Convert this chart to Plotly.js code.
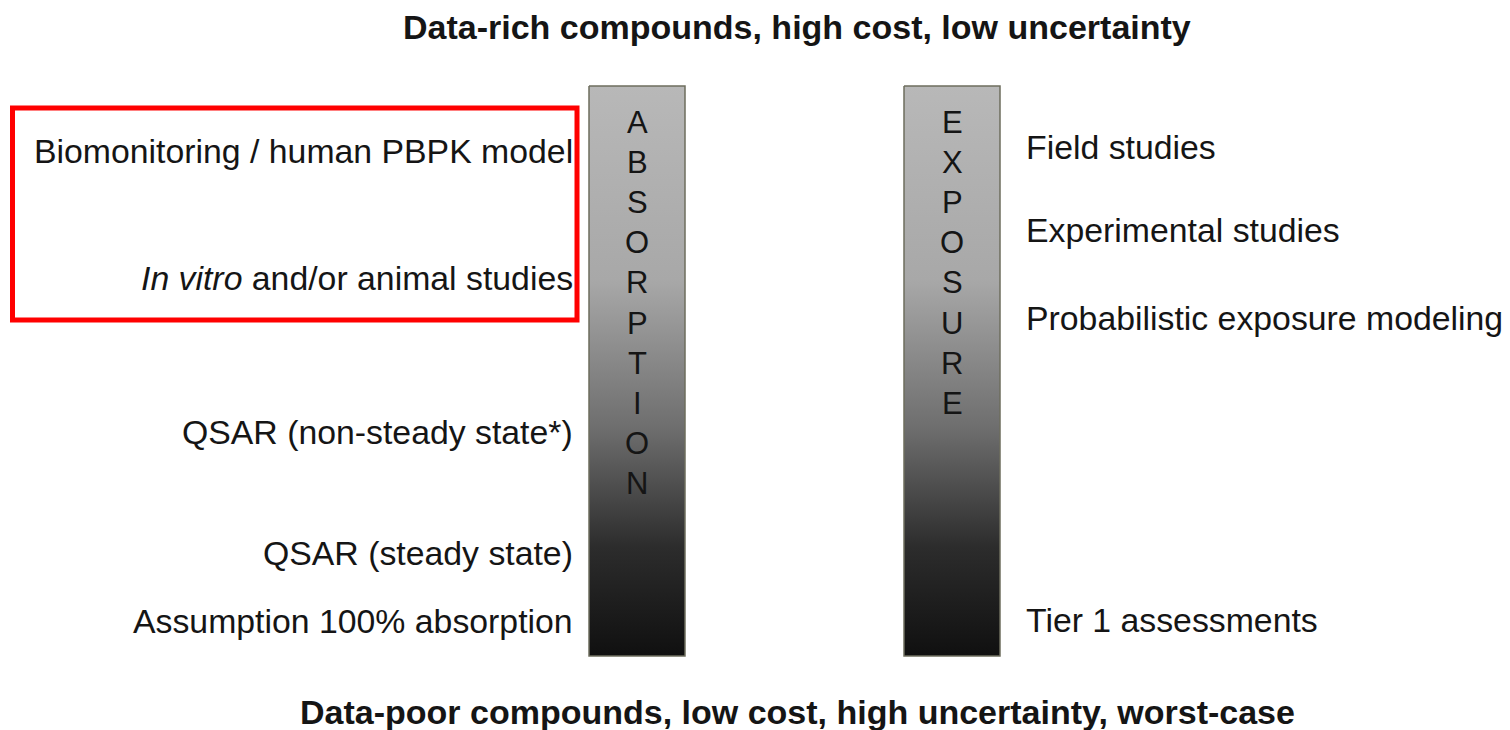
<!DOCTYPE html>
<html>
<head>
<meta charset="utf-8">
<script src="https://cdn.plot.ly/plotly-3.0.1.min.js"></script>
<style>html,body{margin:0;padding:0;background:#fff;}#chart{width:1510px;height:730px;}</style>
</head>
<body>
<div id="chart"></div>
<script>
// ---- content ----
const topTitle = "Data-rich compounds, high cost, low uncertainty";
const bottomTitle = "Data-poor compounds, low cost, high uncertainty, worst-case";

const absorptionLetters = ["A","B","S","O","R","P","T","I","O","N"];
const exposureLetters = ["E","X","P","O","S","U","R","E"];

const absorptionLabels = [
  "Biomonitoring / human PBPK model",
  "<i>In vitro</i> and/or animal studies",
  "QSAR (non-steady state*)",
  "QSAR (steady state)",
  "Assumption 100% absorption"
];
const absorptionLabelY = [151, 278, 432, 553, 621];

const exposureLabels = [
  "Field studies",
  "Experimental studies",
  "Probabilistic exposure modeling",
  "Tier 1 assessments"
];
const exposureLabelY = [147, 230, 318, 620];

// gradient stops (fraction from top, gray level)
const gradStops = [0, 0.34, 0.60, 0.81, 1];
const gradGray = [184, 168, 110, 44, 16];

// ---- layout geometry (pixel space) ----
const barTop = 86, barBottom = 656;
const absBar = [589, 685];
const expBar = [904, 1000];
const letterTop = 122, letterStep = 40.2;

const colorscale = gradStops.map((s, i) => [s, `rgb(${gradGray[i]},${gradGray[i]},${gradGray[i]})`]);

function barTrace(xr) {
  return {
    type: 'scatter', mode: 'lines',
    x: [xr[0], xr[1], xr[1], xr[0], xr[0]],
    y: [barTop, barTop, barBottom, barBottom, barTop],
    fill: 'toself',
    fillgradient: {type: 'vertical', colorscale: colorscale, start: barTop, stop: barBottom},
    line: {color: '#6e6e5e', width: 1.5},
    hoverinfo: 'skip'
  };
}

const textColor = '#151515';
const baseFont = "'Liberation Sans', Arial, Helvetica, sans-serif";
const labelSize = 33.8;
const annotations = [];

annotations.push({x: 797, y: 27, text: "<b>" + topTitle + "</b>", showarrow: false,
  xref: 'x', yref: 'y', xanchor: 'center', yanchor: 'middle',
  font: {family: baseFont, size: 34, color: textColor}});
annotations.push({x: 797.5, y: 712, text: "<b>" + bottomTitle + "</b>", showarrow: false,
  xref: 'x', yref: 'y', xanchor: 'center', yanchor: 'middle',
  font: {family: baseFont, size: 34, color: textColor}});

absorptionLetters.forEach((l, i) => annotations.push({
  x: (absBar[0] + absBar[1]) / 2, y: letterTop + i * letterStep, text: l, showarrow: false,
  xref: 'x', yref: 'y', xanchor: 'center', yanchor: 'middle',
  font: {family: baseFont, size: 31, color: textColor}}));
exposureLetters.forEach((l, i) => annotations.push({
  x: (expBar[0] + expBar[1]) / 2, y: letterTop + i * letterStep, text: l, showarrow: false,
  xref: 'x', yref: 'y', xanchor: 'center', yanchor: 'middle',
  font: {family: baseFont, size: 31, color: textColor}}));

absorptionLabels.forEach((t, i) => annotations.push({
  x: 575, y: absorptionLabelY[i], text: t, showarrow: false,
  xref: 'x', yref: 'y', xanchor: 'right', yanchor: 'middle',
  font: {family: baseFont, size: labelSize, color: textColor}}));
exposureLabels.forEach((t, i) => annotations.push({
  x: 1024, y: exposureLabelY[i], text: t, showarrow: false,
  xref: 'x', yref: 'y', xanchor: 'left', yanchor: 'middle',
  font: {family: baseFont, size: labelSize, color: textColor}}));

const layout = {
  width: 1510, height: 730,
  margin: {l: 0, r: 0, t: 0, b: 0, pad: 0},
  paper_bgcolor: '#ffffff', plot_bgcolor: '#ffffff',
  showlegend: false,
  xaxis: {range: [0, 1510], visible: false, fixedrange: true},
  yaxis: {range: [730, 0], visible: false, fixedrange: true},
  shapes: [{
    type: 'rect', xref: 'x', yref: 'y', x0: 12.5, x1: 577, y0: 108, y1: 320,
    line: {color: '#ff0000', width: 5}, fillcolor: 'rgba(0,0,0,0)'
  }],
  annotations: annotations
};

Plotly.newPlot('chart', [barTrace(absBar), barTrace(expBar)], layout, {displayModeBar: false, staticPlot: true});
</script>
</body>
</html>
